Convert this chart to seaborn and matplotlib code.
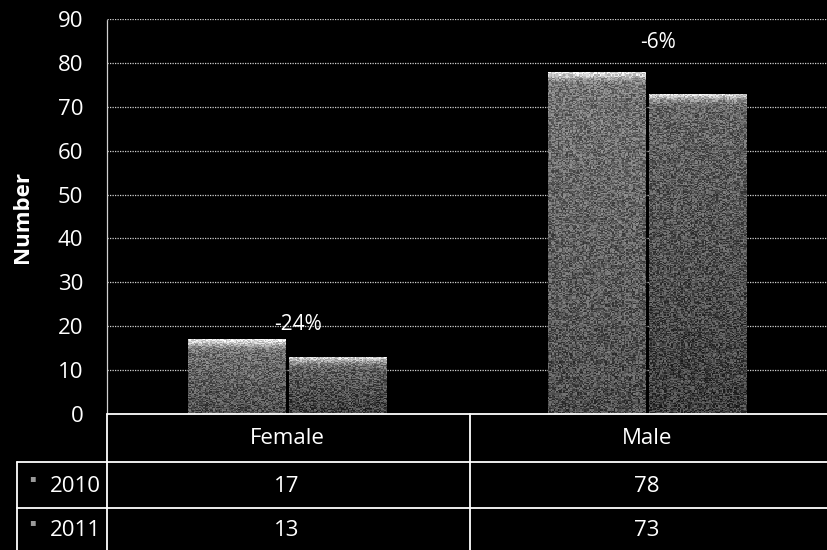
import numpy as np
import pandas as pd
import matplotlib
matplotlib.use("Agg")
import matplotlib.pyplot as plt
import seaborn as sns

categories = ["Female", "Male"]
years = ["2010", "2011"]
values_2010 = [17, 78]
values_2011 = [13, 73]
change_labels = ["-24%", "-6%"]
yticks = [0, 10, 20, 30, 40, 50, 60, 70, 80, 90]

df = pd.DataFrame({
    "Gender": categories * 2,
    "Year": [years[0]] * 2 + [years[1]] * 2,
    "Number": values_2010 + values_2011,
})

sns.set_theme(style="dark")
plt.rcParams["font.family"] = ["Open Sans", "DejaVu Sans"]

W, H = 827, 550
FS = 16
fig = plt.figure(figsize=(W / 100, H / 100), dpi=100, facecolor="black")
ax = fig.add_axes([107 / W, (H - 414) / H, 720 / W, (414 - 19) / H])
ax.set_facecolor("black")

bar_colors = {"2010": "#7a7a7a", "2011": "#666666"}
sns.barplot(data=df, x="Gender", y="Number", hue="Year", order=categories,
            hue_order=years, palette=bar_colors, width=0.56, gap=0.03,
            saturation=1, legend=False, ax=ax, zorder=3, linewidth=0)

# shaded fill inside each bar: bright top band fading to a darker, grainy base
rng = np.random.default_rng(3)
for k, patch in enumerate(ax.patches):
    x0, y0 = patch.get_x(), patch.get_y()
    w, h = patch.get_width(), patch.get_height()
    if h <= 0:
        continue
    n = 300
    t = np.linspace(0, 1, n)[:, None]  # 0 at top
    level = 0.46 if k < 2 else 0.40
    base = level - 0.16 * t
    hi = 0.45 * np.exp(-(t * h / 1.6) ** 2)
    grad = np.clip(base + hi, 0, 1)
    grain = grad + (rng.random((n, 70)) - 0.5) * 0.35
    im = ax.imshow(np.clip(grain, 0, 1), cmap="gray", vmin=0, vmax=1,
                   extent=[x0, x0 + w, y0, y0 + h], aspect="auto",
                   origin="upper", zorder=4, interpolation="nearest")
    im.set_clip_path(patch)

ax.set_xlim(-0.5, 1.5)
ax.set_ylim(0, 90)
ax.set_yticks(yticks)
ax.set_yticklabels([str(v) for v in yticks], color="white", fontsize=FS)
ax.tick_params(axis="y", length=0, pad=17)
ax.tick_params(axis="x", length=0, labelbottom=False)
ax.set_xlabel("")
ax.set_ylabel("")
fig.text(23 / W, 1 - 217 / H, "Number", color="white", fontsize=FS,
         fontweight="bold", rotation=90, ha="center", va="center")

ax.grid(False)
for v in yticks[1:]:
    ax.axhline(v, color="#d0d0d0", lw=0.9, ls=(0, (1, 1)), zorder=1)
for s in ["top", "right", "bottom"]:
    ax.spines[s].set_visible(False)
ax.spines["left"].set_color("#d0d0d0")
ax.spines["left"].set_linestyle((0, (1, 1)))
ax.spines["left"].set_linewidth(0.9)

# percentage change above each group
label_heights = [20.3, 84.6]
for i, (lab, yv) in enumerate(zip(change_labels, label_heights)):
    ax.text(i + 0.03, yv, lab, color="white", fontsize=FS - 1,
            ha="center", va="center", zorder=6)

# data table beneath the axis
def fx(px):
    return px / W

def fy(py):
    return 1 - py / H

lc = "white"
lw = 1.3
fig.add_artist(plt.Line2D([fx(107), fx(827)], [fy(414), fy(414)], color=lc, lw=lw))
for yl in (462, 508):
    fig.add_artist(plt.Line2D([fx(17), fx(827)], [fy(yl), fy(yl)], color=lc, lw=lw))
fig.add_artist(plt.Line2D([fx(107), fx(107)], [fy(414), fy(550)], color=lc, lw=lw))
fig.add_artist(plt.Line2D([fx(470), fx(470)], [fy(414), fy(550)], color=lc, lw=lw))
fig.add_artist(plt.Line2D([fx(17), fx(17)], [fy(462), fy(550)], color=lc, lw=lw))

col_centers = [287, 647]
row_centers = [486, 530]
for cx, cat in zip(col_centers, categories):
    fig.text(fx(cx), fy(438), cat, color="white", fontsize=FS, ha="center", va="center")
for ry, yr, vals in zip(row_centers, years, [values_2010, values_2011]):
    fig.text(fx(101), fy(ry), yr, color="white", fontsize=FS, ha="right", va="center")
    fig.text(fx(32), fy(ry - 7), "\u25aa", color="#9a9a9a", fontsize=7,
             ha="center", va="center")
    for cx, v in zip(col_centers, vals):
        fig.text(fx(cx), fy(ry), str(v), color="white", fontsize=FS,
                 ha="center", va="center")

fig.savefig("out.png", dpi=100, facecolor="black")
